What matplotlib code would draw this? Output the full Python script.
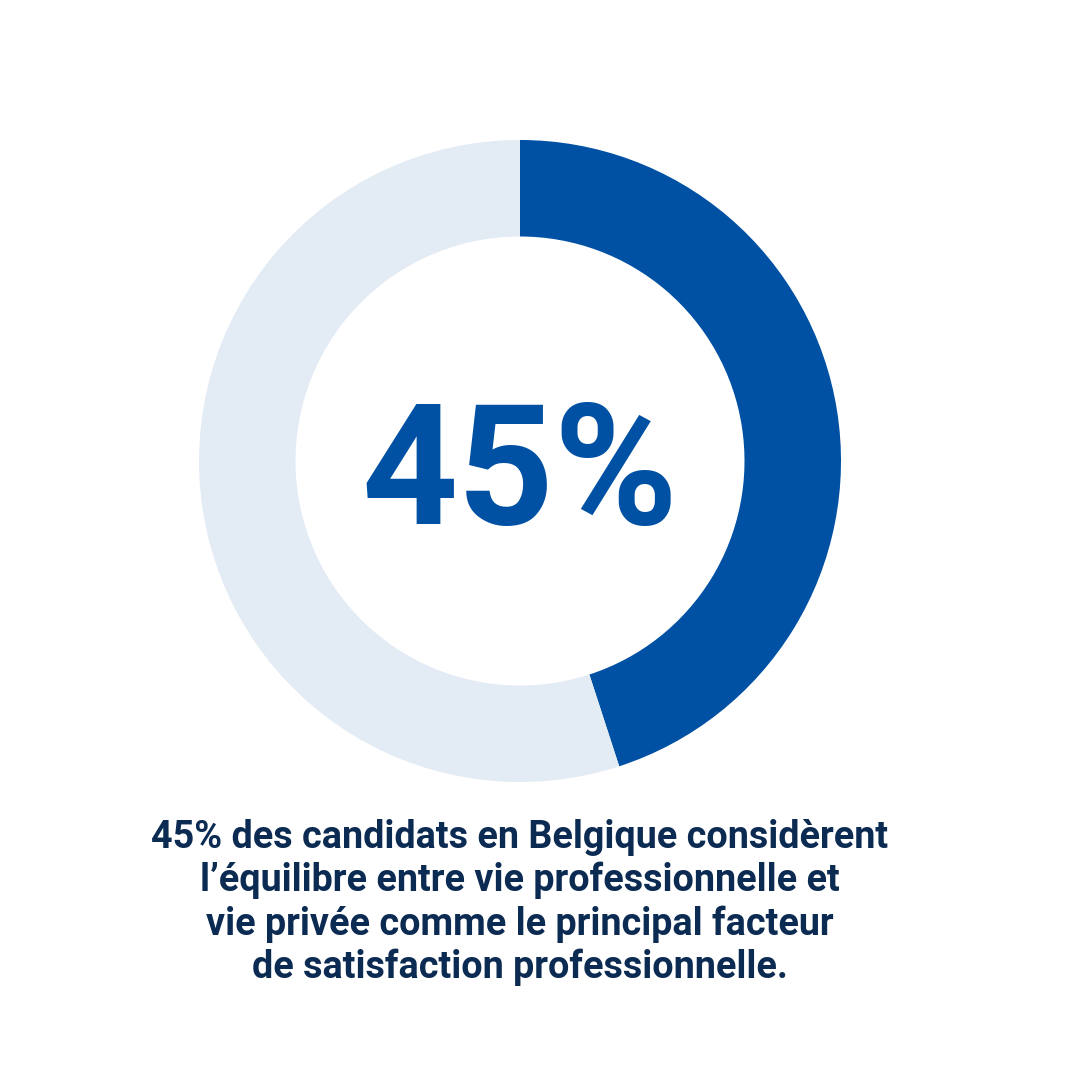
import matplotlib
matplotlib.use("Agg")
import matplotlib.pyplot as plt

labels = ["Équilibre vie pro / vie privée", "Autres facteurs"]
values = [45, 55]
big_label = "45%"
caption_lines = [
    "45% des candidats en Belgique considèrent",
    "l’équilibre entre vie professionnelle et",
    "vie privée comme le principal facteur",
    "de satisfaction professionnelle.",
]

BLUE = "#0050A3"
LIGHT = "#E3EBF5"
NAVY = "#0C2B52"

W = H = 1080
fig = plt.figure(figsize=(10.8, 10.8), dpi=100)
fig.patch.set_facecolor("white")

cx, cy, R, r_in = 520, 461, 321, 224.5
ax = fig.add_axes([(cx - R) / W, (H - cy - R) / H, 2 * R / W, 2 * R / H])
ax.pie(values, colors=[BLUE, LIGHT], startangle=90, counterclock=False,
       radius=1.0, wedgeprops=dict(width=(R - r_in) / R, edgecolor="none", linewidth=0))
ax.set_xlim(-1, 1)
ax.set_ylim(-1, 1)
ax.set_aspect("equal")
ax.axis("off")

ax.text(-0.002, -0.05, big_label, ha="center", va="center", fontsize=121,
        fontweight="bold", family=["Roboto", "DejaVu Sans"], color=BLUE)

fig.text(520 / W, 1 - 819 / H, "\n".join(caption_lines), ha="center", va="top",
         fontsize=27.2, fontweight="bold", family=["Roboto", "DejaVu Sans"],
         color=NAVY, linespacing=1.2)

fig.savefig("out.png", dpi=100, facecolor="white")
